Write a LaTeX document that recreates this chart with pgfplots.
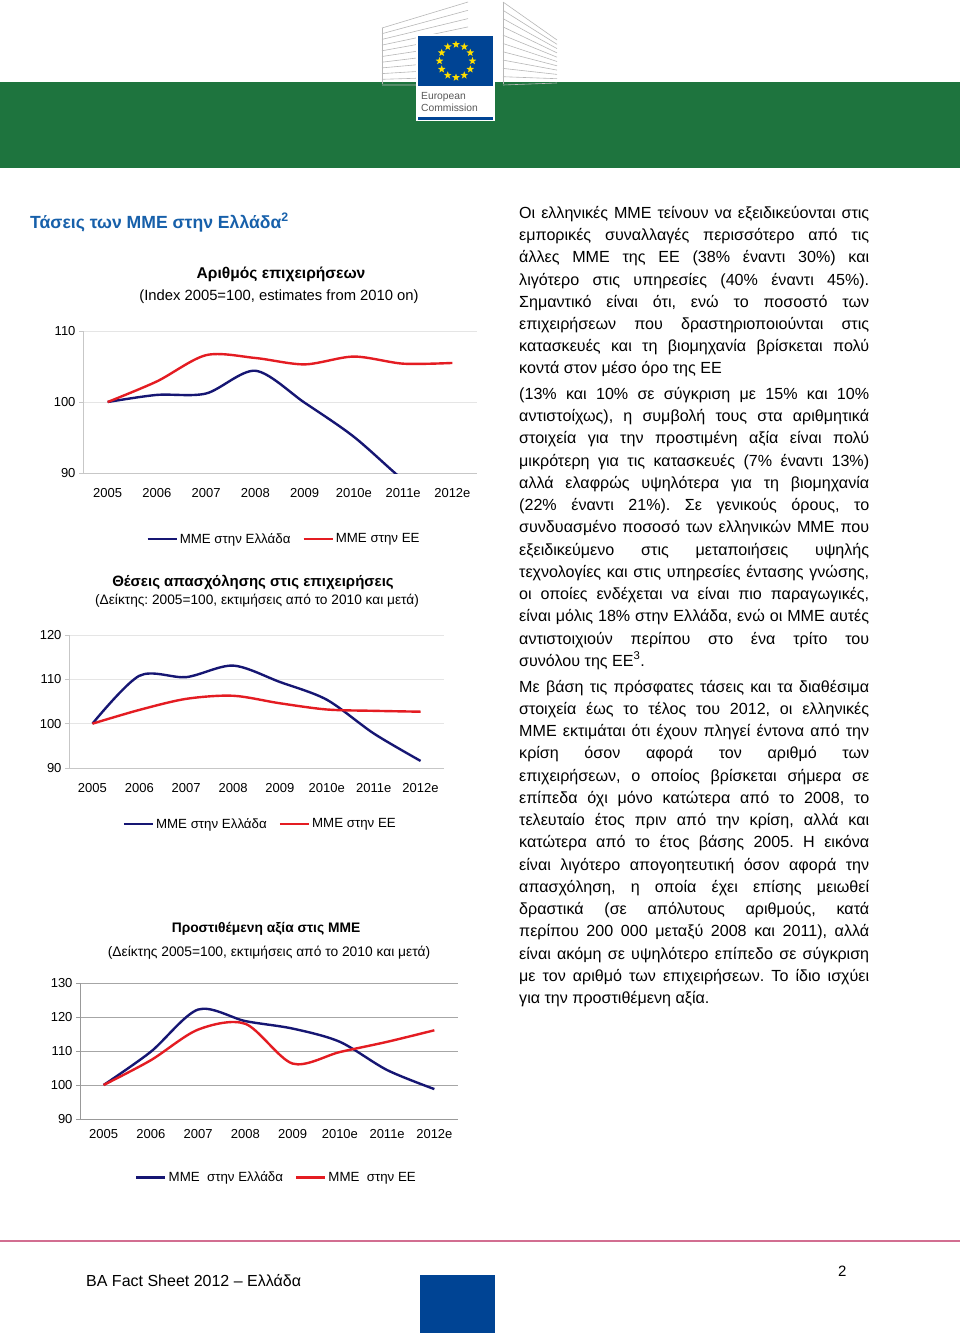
\documentclass[border=0pt]{standalone}
\usepackage{fontspec}
\setmainfont{Liberation Sans}
\usepackage{pgfplots}
\pgfplotsset{compat=1.18}
\usetikzlibrary{shapes.geometric}
\definecolor{ecgreen}{RGB}{30,116,62}
\definecolor{ecblue}{RGB}{0,68,148}
\definecolor{titleblue}{RGB}{23,96,170}
\definecolor{lblue}{RGB}{22,22,115}
\definecolor{lred}{RGB}{228,28,34}
\definecolor{starY}{RGB}{255,222,0}
\definecolor{footpink}{RGB}{210,110,145}
\frenchspacing

\pgfplotsset{
  smechart/.style={
    scale only axis,
    xmin=-0.5, xmax=7.5,
    xtick={0,...,7},
    xticklabels={2005,2006,2007,2008,2009,2010e,2011e,2012e},
    minor xtick={-0.5,0.5,...,7.5},
    axis lines*=left,
    axis line style={draw=black!22, line width=0.8pt},
    tick align=outside,
    major tick length=4pt, minor tick length=4pt,
    xtick style={draw=none},
    minor tick style={draw=black!22, line width=0.6pt},
    ytick style={draw=black!22, line width=0.6pt},
    ymajorgrids,
    grid style={draw=black!10, line width=0.6pt},
    tick label style={font=\fontsize{13}{15}\selectfont},
    /pgf/number format/assume math mode=true,
    legend style={draw=none, fill=none, font=\fontsize{13.3}{15}\selectfont,
      legend columns=2, /tikz/every even column/.append style={column sep=10pt}},
    legend image code/.code={\draw[#1] (0pt,0pt) -- (29pt,0pt);},
    every axis plot/.append style={line width=2.4pt, smooth},
  }
}

\newcommand{\jl}[2]{\node[anchor=base west, inner sep=0pt] at (519pt,-#1pt) {\makebox[350pt][s]{#2}};}
\newcommand{\lline}[2]{\node[anchor=base west, inner sep=0pt] at (519pt,-#1pt) {#2};}

\begin{document}
\begin{tikzpicture}
\useasboundingbox (0pt,0pt) rectangle (960pt,-1333pt);
\fill[white] (0pt,0pt) rectangle (960pt,-1333pt);

% ---------- header ----------
\fill[ecgreen] (0pt,-82pt) rectangle (960pt,-168pt);
\foreach \i in {0,...,10} {
  \draw[black!28, line width=0.6pt] (382pt,{-(28+5.7*\i)*1pt}) -- (468pt,{-(2+8.3*\i)*1pt});
  \draw[black!28, line width=0.6pt] (503pt,{-(2+8.3*\i)*1pt}) -- (557pt,{-(40+4.3*\i)*1pt});
}
\draw[black!28, line width=0.6pt] (382pt,-28pt) -- (382pt,-84pt);
\draw[black!28, line width=0.6pt] (503pt,-2pt) -- (503pt,-84pt);
\fill[white] (416pt,-34pt) rectangle (495pt,-121pt);
\fill[ecblue] (418pt,-36pt) rectangle (493pt,-86pt);
\foreach \a in {0,30,...,330}
  \node[star, star points=5, star point ratio=2.4, fill=starY, inner sep=0pt, minimum size=8pt]
    at ([shift={(\a:16.5pt)}]456pt,-61pt) {};
\fill[white] (418pt,-86pt) rectangle (493pt,-117pt);
\fill[ecblue] (418pt,-117pt) rectangle (493pt,-120pt);
\node[anchor=base west, inner sep=0pt, text=black!65, font=\fontsize{10.3}{11}\selectfont] at (421pt,-99pt) {European};
\node[anchor=base west, inner sep=0pt, text=black!65, font=\fontsize{10.3}{11}\selectfont] at (421pt,-111pt) {Commission};

% ---------- section title ----------
\node[anchor=base west, inner sep=0pt, text=titleblue, font=\bfseries\fontsize{17.6}{20}\selectfont]
  at (30pt,-228pt) {Τάσεις των ΜΜΕ στην Ελλάδα\textsuperscript{2}};

% ---------- chart 1 ----------
\node[font=\bfseries\fontsize{15.6}{17}\selectfont, inner sep=0pt] at (281pt,-274pt) {Αριθμός επιχειρήσεων};
\node[font=\fontsize{14.8}{16}\selectfont, inner sep=0pt] at (279pt,-297pt) {(Index 2005=100, estimates from 2010 on)};
\begin{axis}[smechart, at={(83pt,-473pt)}, anchor=south west, width=394pt, height=142pt,
  ymin=90, ymax=110, ytick={90,100,110},
  xticklabel style={yshift=-8pt},
  legend style={at={(0.51,-0.465)}, anchor=center}]
\addplot[lblue] coordinates {(0,100) (1,101.0) (2,101.2) (3,104.4) (4,99.9) (5,95.1) (6,89.0) (7,83.5)};
\addplot[lred] coordinates {(0,100) (1,102.9) (2,106.6) (3,106.2) (4,105.3) (5,106.4) (6,105.4) (7,105.5)};
\legend{ΜΜΕ στην Ελλάδα, ΜΜΕ στην ΕΕ}
\end{axis}

% ---------- chart 2 ----------
\node[font=\bfseries\fontsize{15}{17}\selectfont, inner sep=0pt] at (253pt,-582pt) {Θέσεις απασχόλησης στις επιχειρήσεις};
\node[font=\fontsize{13.7}{16}\selectfont, inner sep=0pt] at (257pt,-601pt) {(Δείκτης: 2005=100, εκτιμήσεις από το 2010 και μετά)};
\begin{axis}[smechart, at={(69pt,-768pt)}, anchor=south west, width=375pt, height=133pt,
  ymin=90, ymax=120, ytick={90,100,110,120},
  xticklabel style={yshift=-8pt},
  legend style={at={(0.51,-0.42)}, anchor=center}]
\addplot[lblue] coordinates {(0,100) (1,110.8) (2,110.5) (3,113.1) (4,109.4) (5,105.4) (6,97.8) (7,91.6)};
\addplot[lred] coordinates {(0,100) (1,103.1) (2,105.6) (3,106.3) (4,104.6) (5,103.2) (6,102.9) (7,102.7)};
\legend{ΜΜΕ στην Ελλάδα, ΜΜΕ στην ΕΕ}
\end{axis}

% ---------- chart 3 ----------
\node[font=\bfseries\fontsize{13.8}{17}\selectfont, inner sep=0pt] at (266pt,-929pt) {Προστιθέμενη αξία στις ΜΜΕ};
\node[font=\fontsize{13.8}{17}\selectfont, inner sep=0pt] at (269pt,-953pt) {(Δείκτης 2005=100, εκτιμήσεις από το 2010 και μετά)};
\begin{axis}[smechart, at={(80pt,-1119pt)}, anchor=south west, width=378pt, height=136pt,
  ymin=90, ymax=130, ytick={90,100,110,120,130},
  xticklabel style={yshift=-3pt},
  grid style={draw=black!35, line width=0.7pt},
  axis line style={draw=black!40, line width=0.8pt},
  minor tick style={draw=black!40, line width=0.6pt},
  ytick style={draw=black!40, line width=0.6pt},
  legend style={at={(0.52,-0.43)}, anchor=center}]
\addplot[lblue] coordinates {(0,100) (1,109.8) (2,122.2) (3,118.8) (4,116.6) (5,112.7) (6,104.4) (7,98.8)};
\addplot[lred] coordinates {(0,100) (1,107.3) (2,116.3) (3,118.0) (4,106.3) (5,109.7) (6,112.7) (7,116.1)};
\legend{ΜΜΕ\ \ στην Ελλάδα, ΜΜΕ\ \ στην ΕΕ}
\end{axis}

% ---------- right column text ----------
\begin{scope}[font=\fontsize{16.1}{18}\selectfont]
\jl{218}{Οι ελληνικές ΜΜΕ τείνουν να εξειδικεύονται στις}
\jl{240}{εμπορικές συναλλαγές περισσότερο από τις}
\jl{262}{άλλες ΜΜΕ της ΕΕ (38\% έναντι 30\%) και}
\jl{285}{λιγότερο στις υπηρεσίες (40\% έναντι 45\%).}
\jl{307}{Σημαντικό είναι ότι, ενώ το ποσοστό των}
\jl{329}{επιχειρήσεων που δραστηριοποιούνται στις}
\jl{351}{κατασκευές και τη βιομηχανία βρίσκεται πολύ}
\lline{373}{κοντά στον μέσο όρο της ΕΕ}
\jl{399}{(13\% και 10\% σε σύγκριση με 15\% και 10\%}
\jl{421}{αντιστοίχως), η συμβολή τους στα αριθμητικά}
\jl{443}{στοιχεία για την προστιμένη αξία είναι πολύ}
\jl{466}{μικρότερη για τις κατασκευές (7\% έναντι 13\%)}
\jl{488}{αλλά ελαφρώς υψηλότερα για τη βιομηχανία}
\jl{510}{(22\% έναντι 21\%). Σε γενικούς όρους, το}
\jl{532}{συνδυασμένο ποσοσό των ελληνικών ΜΜΕ που}
\jl{555}{εξειδικεύμενο στις μεταποιήσεις υψηλής}
\jl{577}{τεχνολογίες και στις υπηρεσίες έντασης γνώσης,}
\jl{599}{οι οποίες ενδέχεται να είναι πιο παραγωγικές,}
\jl{621}{είναι μόλις 18\% στην Ελλάδα, ενώ οι ΜΜΕ αυτές}
\jl{644}{αντιστοιχιούν περίπου στο ένα τρίτο του}
\lline{666}{συνόλου της ΕΕ\textsuperscript{3}.}
\jl{692}{Με βάση τις πρόσφατες τάσεις και τα διαθέσιμα}
\jl{714}{στοιχεία έως το τέλος του 2012, οι ελληνικές}
\jl{736}{ΜΜΕ εκτιμάται ότι έχουν πληγεί έντονα από την}
\jl{758}{κρίση όσον αφορά τον αριθμό των}
\jl{781}{επιχειρήσεων, ο οποίος βρίσκεται σήμερα σε}
\jl{803}{επίπεδα όχι μόνο κατώτερα από το 2008, το}
\jl{825}{τελευταίο έτος πριν από την κρίση, αλλά και}
\jl{847}{κατώτερα από το έτος βάσης 2005. Η εικόνα}
\jl{870}{είναι λιγότερο απογοητευτική όσον αφορά την}
\jl{892}{απασχόληση, η οποία έχει επίσης μειωθεί}
\jl{914}{δραστικά (σε απόλυτους αριθμούς, κατά}
\jl{936}{περίπου 200 000 μεταξύ 2008 και 2011), αλλά}
\jl{959}{είναι ακόμη σε υψηλότερο επίπεδο σε σύγκριση}
\jl{981}{με τον αριθμό των επιχειρήσεων. Το ίδιο ισχύει}
\lline{1003}{για την προστιθέμενη αξία.}
\end{scope}

% ---------- footer ----------
\draw[footpink, line width=1.2pt] (0pt,-1241pt) -- (960pt,-1241pt);
\node[anchor=base west, inner sep=0pt, font=\fontsize{16}{18}\selectfont] at (86pt,-1286pt) {BA Fact Sheet 2012 – Ελλάδα};
\node[anchor=base west, inner sep=0pt, font=\fontsize{15}{17}\selectfont] at (838pt,-1276pt) {2};
\fill[ecblue] (420pt,-1275pt) rectangle (495pt,-1333pt);
\end{tikzpicture}
\end{document}
